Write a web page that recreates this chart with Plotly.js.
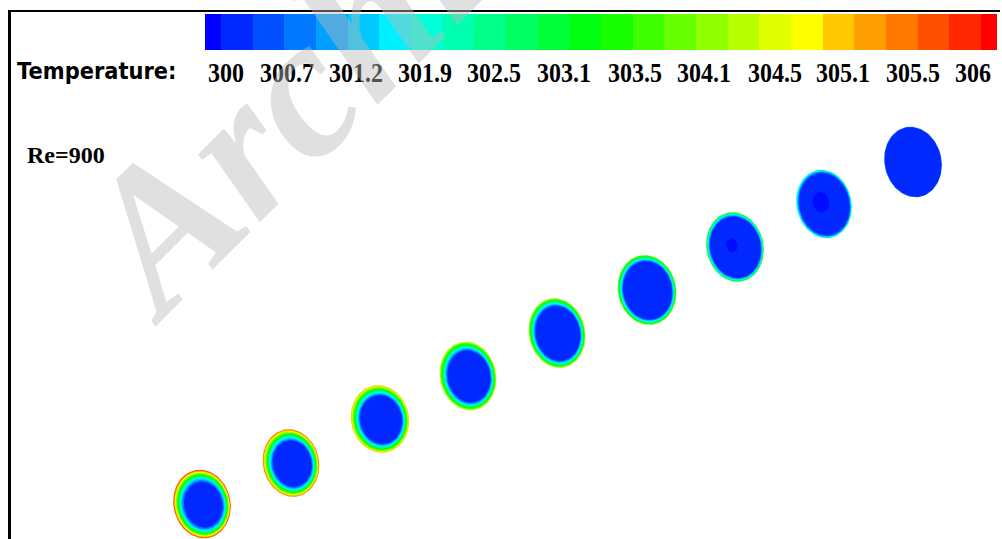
<!DOCTYPE html>
<html>
<head>
<meta charset="utf-8">
<script src="https://cdn.plot.ly/plotly-3.0.1.min.js"></script>
<style>
  html, body { margin: 0; padding: 0; background: #ffffff; }
  #chart { width: 1002px; height: 539px; }
</style>
</head>
<body>
<div id="chart"></div>
<script>
// Temperature contour levels, cold (index 0) to hot (index 25)
const levelColors = [
  '#0000ff', '#0028ff', '#0050ff', '#0078ff', '#00a0ff', '#00c8ff',
  '#00f0ff', '#00ffd8', '#00ffb0', '#00ff88', '#00ff60', '#00ff38',
  '#00ff10', '#18ff00', '#40ff00', '#68ff00', '#90ff00', '#b8ff00',
  '#e0ff00', '#ffff00', '#ffc800', '#ffa000', '#ff7800', '#ff5000',
  '#ff2800', '#ff0000'
];

// Legend labels (K) and where they sit along the legend bar, in level units
const tickLabels = ['300', '300.7', '301.2', '301.9', '302.5', '303.1',
                    '303.5', '304.1', '304.5', '305.1', '305.5', '306'];
const tickLevels = [0.66, 2.59, 4.77, 6.94, 9.12, 11.33,
                    13.57, 15.75, 17.99, 20.14, 22.35, 24.24];

// Droplet centres and semi-axes along the trajectory
const dropX  = [202, 291, 380, 468, 557, 647, 735, 824, 913];
const dropY  = [504, 463, 419, 376, 333, 290, 247, 204, 162];
const dropRx = [28.5, 28, 29, 28, 28, 29, 28.5, 27.5, 28.5];
const dropRy = [34.5, 34, 34, 34.5, 35, 35, 35, 34.5, 35.5];

// Thermal layers of each droplet, surface to core: [level, relative size]
const dropLayers = [
  [[23, 1.00], [21, 0.975], [19, 0.95], [17, 0.93], [15, 0.905], [13, 0.88], [11, 0.85], [9, 0.82], [7, 0.79], [5, 0.76], [3, 0.72], [1, 0.67]],
  [[22, 1.00], [20, 0.975], [18, 0.95], [16, 0.925], [14, 0.90], [12, 0.87], [10, 0.84], [8, 0.81], [6, 0.78], [4, 0.75], [2, 0.71], [1, 0.68]],
  [[20, 1.00], [18, 0.975], [16, 0.95], [14, 0.925], [12, 0.895], [10, 0.865], [8, 0.835], [6, 0.805], [4, 0.775], [2, 0.74], [1, 0.71]],
  [[17, 1.00], [15, 0.975], [13, 0.95], [11, 0.92], [9, 0.89], [7, 0.86], [5, 0.83], [3, 0.80], [1, 0.76]],
  [[16, 1.00], [14, 0.975], [12, 0.95], [10, 0.925], [8, 0.90], [6, 0.87], [4, 0.84], [2, 0.81], [1, 0.78]],
  [[14, 1.00], [12, 0.975], [10, 0.95], [8, 0.93], [6, 0.905], [4, 0.88], [2, 0.855], [1, 0.83]],
  [[11, 1.00], [9, 0.975], [7, 0.955], [5, 0.935], [3, 0.91], [1, 0.885], [0, 0.20]],
  [[8, 1.00], [6, 0.975], [4, 0.955], [2, 0.93], [1, 0.90], [0, 0.30]],
  [[2, 1.00], [1, 0.975]]
];

const traces = [];

// Legend bar: one cell per level, end cells half width
const levelIdx = levelColors.map((c, i) => i);
const nL = levelColors.length - 1;
const cellEdges = [0].concat(levelIdx.slice(1).map(i => i - 0.5), [nL]);
const stepScale = [];
levelColors.forEach((c, i) => {
  stepScale.push([Math.max(0, (i - 0.5) / nL), c]);
  stepScale.push([Math.min(1, (i + 0.5) / nL), c]);
});
traces.push({
  type: 'heatmap',
  z: [levelIdx],
  x: cellEdges,
  y: [0, 1],
  xaxis: 'x2', yaxis: 'y2',
  zmin: 0, zmax: nL,
  colorscale: stepScale,
  showscale: false,
  hoverinfo: 'skip'
});

// Droplets as nested filled ellipses, tilted slightly (top toward the left)
const TILT = -12 * Math.PI / 180;
function ellipse(cx, cy, rx, ry, n) {
  const xs = [], ys = [];
  const c = Math.cos(TILT), s = Math.sin(TILT);
  for (let k = 0; k <= n; k++) {
    const t = 2 * Math.PI * k / n;
    const ex = rx * Math.cos(t), ey = ry * Math.sin(t);
    xs.push(cx + ex * c - ey * s);
    ys.push(cy + ex * s + ey * c);
  }
  return [xs, ys];
}

dropX.forEach((cx, d) => {
  dropLayers[d].forEach(([lvl, s], j) => {
    const inner = s < 0.5;
    const shift = inner ? -3 : (1 - s) * 4;
    const [xs, ys] = ellipse(cx + shift, dropY[d] + shift * 0.6, dropRx[d] * s, dropRy[d] * s, 90);
    traces.push({
      type: 'scatter', mode: 'lines',
      x: xs, y: ys,
      fill: 'toself',
      fillcolor: levelColors[lvl],
      opacity: inner ? 0.7 : 1,
      line: { width: 0, color: levelColors[lvl] },
      hoverinfo: 'skip',
      showlegend: false
    });
  });
});

const W = 1002, H = 539;
const serif = 'Liberation Serif, Times New Roman, serif';

const annotations = tickLabels.map((t, i) => ({
  text: t, xref: 'x2', yref: 'paper',
  x: tickLevels[i], y: 1 - 73 / H,
  xanchor: 'center', yanchor: 'middle', showarrow: false,
  font: { family: serif, size: 24, color: '#000000', weight: 'bold' }
}));
annotations.push({
  text: 'Temperature:', xref: 'paper', yref: 'paper',
  x: 96.5 / W, y: 1 - 72 / H, xanchor: 'center', yanchor: 'middle', showarrow: false,
  font: { family: 'DejaVu Sans, Verdana, sans-serif', size: 21, color: '#000000', weight: 'bold' }
});
annotations.push({
  text: 'Re=900', xref: 'paper', yref: 'paper',
  x: 25 / W, y: 1 - 155 / H, xanchor: 'left', yanchor: 'middle', showarrow: false,
  font: { family: serif, size: 24, color: '#000000', weight: 'bold' }
});
const WATERMARK = annotations.length;
annotations.push({
  text: '<i>Archive</i>', xref: 'paper', yref: 'paper',
  x: 338 / W, y: 1 - 48 / H, xanchor: 'center', yanchor: 'middle', showarrow: false,
  textangle: -45,
  font: { family: serif, size: 200, color: 'rgba(184,184,184,0.44)', weight: 'bold' }
});

const layout = {
  width: W, height: H,
  margin: { l: 0, r: 0, t: 0, b: 0 },
  paper_bgcolor: '#ffffff', plot_bgcolor: 'rgba(0,0,0,0)',
  showlegend: false,
  xaxis: { range: [0, W], visible: false, fixedrange: true },
  yaxis: { range: [H, 0], visible: false, fixedrange: true },
  xaxis2: { domain: [205 / W, 997 / W], range: [0, nL], visible: false, anchor: 'y2' },
  yaxis2: { domain: [1 - 50 / H, 1 - 14 / H], range: [0, 1], visible: false, anchor: 'x2' },
  annotations: annotations,
  shapes: [
    { type: 'line', xref: 'paper', yref: 'paper', x0: 9.5 / W, x1: 9.5 / W, y0: 0, y1: 1 - 10 / H,
      line: { color: '#000000', width: 3 } },
    { type: 'line', xref: 'paper', yref: 'paper', x0: 8 / W, x1: 1000 / W, y0: 1 - 11 / H, y1: 1 - 11 / H,
      line: { color: '#000000', width: 2 } }
  ]
};

Plotly.newPlot('chart', traces, layout, { displayModeBar: false, staticPlot: true }).then(gd => {
  // The printed labels are set in a tall, narrow face: stretch them vertically
  gd.querySelectorAll('.annotation').forEach(g => {
    const idx = +g.getAttribute('data-index');
    if (idx === WATERMARK) return;
    const txt = g.querySelector('text.annotation-text');
    if (!txt) return;
    const k = idx < tickLabels.length ? 1.18 : (idx === tickLabels.length ? 1.06 : 1.0);
    txt.style.transformBox = 'fill-box';
    txt.style.transformOrigin = 'center';
    txt.style.transform = 'scaleY(' + k + ')';
  });
});
</script>
</body>
</html>
